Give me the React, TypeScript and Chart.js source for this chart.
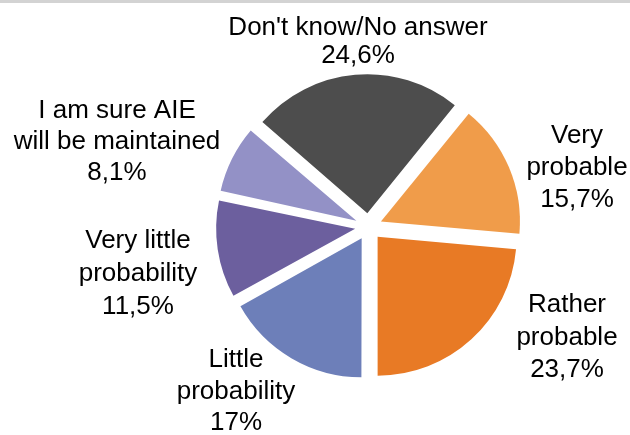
import React, { useEffect, useRef } from "react";
import { Chart, registerables } from "chart.js";

Chart.register(...registerables);

const categories = [
  "Very probable",
  "Rather probable",
  "Little probability",
  "Very little probability",
  "I am sure AIE will be maintained",
  "Don't know/No answer",
];
const values = [15.7, 23.7, 17, 11.5, 8.1, 24.6];
const valueLabels = ["15,7%", "23,7%", "17%", "11,5%", "8,1%", "24,6%"];
const labelLines = [
  ["Very", "probable"],
  ["Rather", "probable"],
  ["Little", "probability"],
  ["Very little", "probability"],
  ["I am sure AIE", "will be maintained"],
  ["Don't know/No answer"],
];
const colors = ["#F09C4A", "#E87A25", "#6D7FB9", "#6C5F9E", "#9391C6", "#4D4D4D"];

// label layout: centre x, first baseline y, line height
const labelLayout = [
  [577, 143, 32],
  [567, 312, 32.5],
  [236, 367, 31.5],
  [138, 248, 33],
  [117, 118, 31],
  [358, 35, 28],
];

const RADIUS = 139;
const EXPLODE = 54; // Chart.js translates by offset / 4

const fixRadiusPlugin = {
  id: "fixRadius",
  beforeDatasetsDraw(chart: any) {
    const meta = chart.getDatasetMeta(0);
    meta.data.forEach((arc: any) => {
      const circ = arc.circumference || 0;
      const fix = 1 - Math.sin(Math.min(Math.PI, circ));
      arc.outerRadius = RADIUS - (EXPLODE / 4) * fix;
    });
  },
};

const labelsPlugin = {
  id: "pieLabels",
  beforeDraw(chart: any) {
    const ctx = chart.ctx;
    ctx.save();
    ctx.fillStyle = "#D3D3D3";
    ctx.fillRect(0, 0, chart.width, 3);
    ctx.restore();
  },
  afterDatasetsDraw(chart: any) {
    const ctx = chart.ctx;
    ctx.save();
    ctx.font = '26px "Liberation Sans", Arial, sans-serif';
    ctx.fillStyle = "#000000";
    ctx.textAlign = "center";
    ctx.textBaseline = "alphabetic";
    labelLines.forEach((lines, i) => {
      const [x, y, lh] = labelLayout[i];
      const all = [...lines, valueLabels[i]];
      all.forEach((t, j) => ctx.fillText(t, x, y + j * lh));
    });
    ctx.restore();
  },
};

export default function App() {
  const ref = useRef<HTMLCanvasElement>(null);
  useEffect(() => {
    if (!ref.current) return;
    const chart = new Chart(ref.current, {
      type: "pie",
      data: {
        labels: categories,
        datasets: [
          {
            data: values,
            backgroundColor: colors,
            borderWidth: 0,
            offset: EXPLODE,
            hoverOffset: 0,
            radius: RADIUS,
          } as any,
        ],
      },
      options: {
        animation: false,
        responsive: true,
        maintainAspectRatio: false,
        events: [],
        rotation: 39,
        layout: { padding: { left: 160, right: 53, top: 40, bottom: 21.6 } },
        plugins: {
          legend: { display: false },
          tooltip: { enabled: false },
          title: { display: false },
        },
      } as any,
      plugins: [fixRadiusPlugin, labelsPlugin],
    });
    return () => chart.destroy();
  }, []);
  return (
    <div style={{ position: "absolute", left: 0, top: 0, width: 630, height: 435, background: "#fff" }}>
      <canvas ref={ref} />
    </div>
  );
}
